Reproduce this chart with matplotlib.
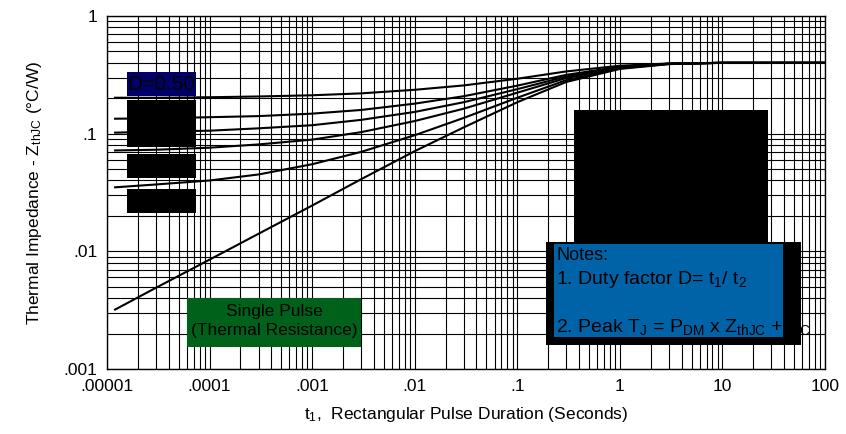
import numpy as np
import matplotlib.pyplot as plt
from matplotlib.patches import Rectangle
from matplotlib.ticker import LogLocator, FixedLocator, FixedFormatter, NullFormatter

plt.rcParams['font.family'] = ['Liberation Sans Narrow', 'Liberation Sans', 'DejaVu Sans']
plt.rcParams['mathtext.default'] = 'regular'

# pulse duration (s) and thermal impedance (C/W)
t = [1.2e-5, 3e-5, 1e-4, 3e-4, 1e-3, 3e-3, 1e-2, 3e-2, 0.1, 0.3, 1, 3, 10, 100]
z_d50 = [0.202, 0.202, 0.204, 0.207, 0.212, 0.220, 0.236, 0.257, 0.293, 0.338, 0.378, 0.395, 0.400, 0.400]
z_d33 = [0.134, 0.135, 0.138, 0.141, 0.148, 0.159, 0.180, 0.208, 0.256, 0.316, 0.370, 0.393, 0.400, 0.400]
z_d25 = [0.102, 0.104, 0.106, 0.111, 0.118, 0.131, 0.153, 0.185, 0.239, 0.306, 0.366, 0.393, 0.400, 0.400]
z_d17 = [0.072, 0.073, 0.076, 0.081, 0.089, 0.103, 0.128, 0.163, 0.223, 0.297, 0.364, 0.393, 0.400, 0.400]
z_d08 = [0.035, 0.037, 0.040, 0.045, 0.055, 0.070, 0.097, 0.136, 0.202, 0.285, 0.359, 0.391, 0.400, 0.400]
z_single = [0.0032, 0.0049, 0.0085, 0.0141, 0.0245, 0.041, 0.071, 0.113, 0.185, 0.275, 0.355, 0.390, 0.400, 0.400]

x_ticks = [1e-5, 1e-4, 1e-3, 1e-2, 1e-1, 1, 10, 100]
x_labels = ['.00001', '.0001', '.001', '.01', '.1', '1', '10', '100']
y_ticks = [1e-3, 1e-2, 1e-1, 1]
y_labels = ['.001', '.01', '.1', '1']

duty_labels = ['D=0.35', 'D=0.25', 'D=0.17', 'D=0.05']

W, H = 846, 434
fig = plt.figure(figsize=(W/100, H/100), dpi=100)
L, R, T, B = 107, 825, 16, 369
ax = fig.add_axes([L/W, 1-B/H, (R-L)/W, (B-T)/H])

def pos(x, y):
	# pixel position in the picture -> axes fraction
	return (x-L)/(R-L), (B-y)/(B-T)

for z in [z_d50, z_d33, z_d25, z_d17, z_d08, z_single]:
	ax.plot(t, z, color='black', lw=1.5, zorder=3)

ax.set_xscale('log')
ax.set_yscale('log')
ax.set_xlim(1e-5, 100)
ax.set_ylim(1e-3, 1)

ax.xaxis.set_major_locator(FixedLocator(x_ticks))
ax.xaxis.set_major_formatter(FixedFormatter(x_labels))
ax.yaxis.set_major_locator(FixedLocator(y_ticks))
ax.yaxis.set_major_formatter(FixedFormatter(y_labels))
ax.xaxis.set_minor_locator(LogLocator(base=10, subs=np.arange(2, 10), numticks=20))
ax.yaxis.set_minor_locator(LogLocator(base=10, subs=np.arange(2, 10), numticks=20))
ax.xaxis.set_minor_formatter(NullFormatter())
ax.yaxis.set_minor_formatter(NullFormatter())
ax.tick_params(which='both', length=0, labelsize=12.5)
ax.tick_params(axis='x', pad=7)
ax.tick_params(axis='y', pad=7)
ax.grid(which='both', color='black', lw=0.8, zorder=1)
for s in ax.spines.values():
	s.set_linewidth(1.0)

ax.set_xlabel('t$_1$,  Rectangular Pulse Duration (Seconds)', fontsize=12.5, labelpad=8)
ax.set_ylabel('Thermal Impedance - Z$_{thJC}$ (°C/W)', fontsize=12.5, labelpad=14)

def box(x0, y0, x1, y1, color, z=4):
	a0 = pos(x0, y1)
	a1 = pos(x1, y0)
	r = Rectangle(a0, a1[0]-a0[0], a1[1]-a0[1], transform=ax.transAxes,
		facecolor=color, edgecolor='none', zorder=z, clip_on=False)
	ax.add_patch(r)
	return r

# duty factor labels
box(127, 72, 196, 96, '#000066')
ax.text(*pos(127, 84), 'D=0.50', transform=ax.transAxes, fontsize=15, va='center', ha='left', color='black', zorder=5)
box(127, 100, 196, 147, 'black')
box(127, 154, 196, 178, 'black')
box(127, 189, 196, 213, 'black')
for yy, lab in zip([112, 135, 166, 201], duty_labels):
	ax.text(*pos(128, yy), lab, transform=ax.transAxes, fontsize=15, va='center', ha='left', color='black', zorder=5)

# single pulse label
box(187, 298, 361, 347, '#00621a')
ax.text(*pos(274, 321), 'Single Pulse\n(Thermal Resistance)', transform=ax.transAxes, fontsize=12.5,
	ha='center', va='center', linespacing=1.35, zorder=5)

# covered block and notes
box(574, 110, 768, 245, 'black')
box(546, 242, 801, 345, 'black', z=6)
notes = box(554, 244, 783, 337, '#0063a8', z=7)
note_lines = [
	(256, 'Notes:', 13),
	(280, '1. Duty factor D= t$_1$/ t$_2$', 14),
	(327, '2. Peak T$_J$ = P$_{DM}$ x Z$_{thJC}$ + T$_C$', 14),
]
for yy, s, fs in note_lines:
	tx = ax.text(*pos(556, yy), s, transform=ax.transAxes, fontsize=fs, va='center', ha='left', zorder=8)
	tx.set_clip_path(notes)

fig.savefig('out.png', dpi=100)
